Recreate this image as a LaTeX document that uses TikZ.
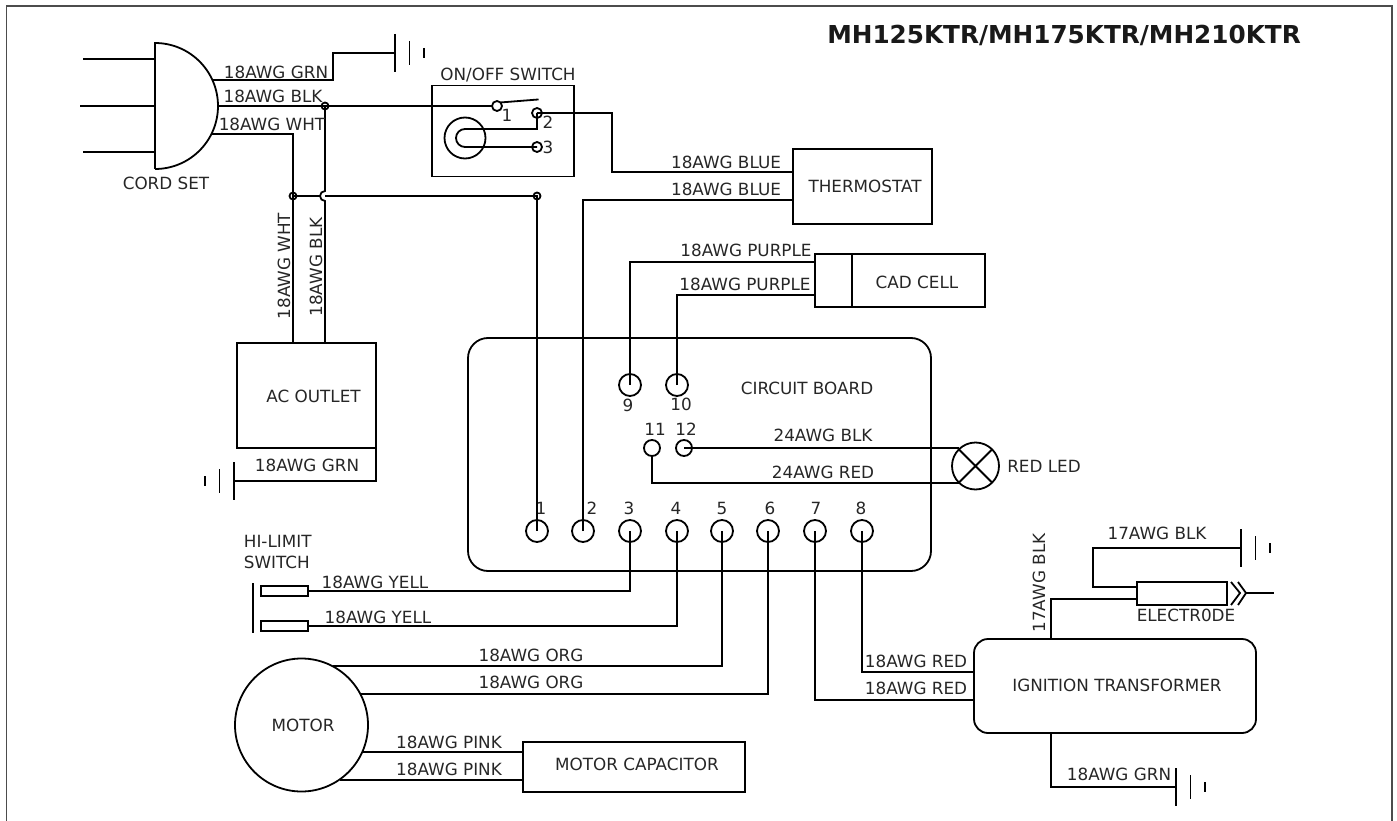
\documentclass[tikz,border=0pt]{standalone}
\usepackage{fontspec}
\setmainfont{DejaVu Sans}
\newcommand{\gnd}[4]{\coordinate (#1) at (#2,#3);
  \draw (#1) ++(0,-19) -- ++(0,38);
  \draw (#1) ++(#4*14.5,-12) -- ++(0,24);
  \draw (#1) ++(#4*29,-5) -- ++(0,10); }
\newcommand{\wirelbl}[3]{\node[lbl] (#1) at (#2) {#3}; }
\tikzset{
  lbl/.style={font=\fontsize{16.8}{21}\selectfont,inner sep=0,text=black!85},
  box/.style={draw,rectangle,inner sep=0,outer sep=0},
  term/.style={draw,circle,inner sep=0,outer sep=0,minimum size=22},
  smallterm/.style={draw,circle,inner sep=0,outer sep=0,minimum size=10},
  dotterm/.style={draw,circle,inner sep=0,outer sep=0,minimum size=7},
}

\begin{document}
\begin{tikzpicture}[x=1pt,y=-1pt,line width=1.8pt]
  \useasboundingbox (0,0) rectangle (1397,821);
  \node[draw=black!70,rectangle,inner sep=0,line width=1.8pt,minimum width=1385.5,minimum height=818] (frame) at (699.2,415) {};
  \node[font=\fontsize{24.7}{29}\selectfont\bfseries,inner sep=0,text=black!90] (title) at (1064,35) {MH125KTR/MH175KTR/MH210KTR};
  % cord set
  \coordinate (plugtop) at (155,43);
  \coordinate (plugbot) at (155,169);
  \draw (plugbot) -- (plugtop) arc[start angle=-90,end angle=90,radius=63];
  \coordinate (plugmid) at (218,106);
  \coordinate (pluggrn) at (212,80);
  \coordinate (plugwht) at (212,134);
  \coordinate (prong1) at (83,59);
  \coordinate (prong2) at (80,106);
  \coordinate (prong3) at (83,152);
  \draw (prong1) -- (155,59);
  \draw (prong2) -- (155,106);
  \draw (prong3) -- (155,152);
  \node[lbl] (cordlbl) at (166,183) {CORD SET};
  % grounds
  \gnd{gnda}{395}{53}{1}
  \gnd{gndb}{234}{481}{-1}
  \gnd{gndc}{1241}{548}{1}
  \gnd{gndd}{1176}{787}{1}
  % switch
  \node[box,minimum width=142,minimum height=91] (switch) at (503,131) {};
  \node[lbl] (switchlbl) at (508,75) {ON/OFF SWITCH};
  \node[smallterm] (sa) at (497,106) {};
  \node[smallterm] (sb) at (537,113) {};
  \node[smallterm] (sc) at (537,147) {};
  \node[lbl] (sal) at (507,115) {1};
  \node[lbl] (sbl) at (548,122) {2};
  \node[lbl] (scl) at (548,147) {3};
  \node[draw,circle,inner sep=0,minimum size=41] (lamp) at (465,138) {};
  \draw (sa.north east) -- ++(38,-3);
  \coordinate (lampa) at (465,129);
  \coordinate (lampb) at (465,147);
  \draw (sb.center) |- (lampa) arc[start angle=90,end angle=270,radius=9,y radius=-9] -- (sc.center);
  % junctions
  \node[dotterm] (jblk) at (325,106) {};
  \node[dotterm] (jwht) at (293,196) {};
  \node[dotterm] (jsw) at (537,196) {};
  \coordinate (hopa) at (325,191);
  \coordinate (hopb) at (325,201);
  % board
  \node[draw,rectangle,rounded corners=20,inner sep=0,outer sep=0,minimum width=463,minimum height=233] (board) at (699.5,454.5) {};
  \node[lbl] (boardlbl) at (807,388) {CIRCUIT BOARD};
  \foreach \n/\x in {1/537,2/583,3/630,4/677,5/722,6/768,7/815,8/862}
    \node[term] (t\n) at (\x,531) {};
  \foreach \n/\x in {1/541,2/592,3/629,4/676,5/722,6/770,7/816,8/861}
    \node[lbl] (tl\n) at (\x,508) {\n};
  \node[term] (t9) at (630,385) {};
  \node[term] (t10) at (677,385) {};
  \node[draw,circle,inner sep=0,outer sep=0,minimum size=16] (t11) at (652,448) {};
  \node[draw,circle,inner sep=0,outer sep=0,minimum size=16] (t12) at (684,448) {};
  \node[lbl] (tl9) at (628,405) {9};
  \node[lbl] (tl10) at (681,404) {10};
  \node[lbl] (tl11) at (655,429) {11};
  \node[lbl] (tl12) at (686,429) {12};
  % boxes
  \node[box,minimum width=139,minimum height=75] (thermo) at (862.5,186.5) {};
  \node[lbl] (thermolbl) at (865,186) {THERMOSTAT};
  \node[box,minimum width=170,minimum height=53] (cad) at (900,280.5) {};
  \draw (852,254) -- (852,307);
  \node[lbl] (cadlbl) at (917,282) {CAD CELL};
  \node[box,minimum width=139,minimum height=105] (outlet) at (306.5,395.5) {};
  \node[lbl] (outletlbl) at (313.5,396) {AC OUTLET};
  \node[draw,circle,inner sep=0,outer sep=0,minimum size=47] (led) at (975.5,466) {};
  \draw (led.north west) -- (led.south east) (led.north east) -- (led.south west);
  \node[lbl] (ledlbl) at (1044,466) {RED LED};
  \node[draw,rectangle,rounded corners=14,inner sep=0,outer sep=0,minimum width=282,minimum height=94] (ign) at (1115,686) {};
  \node[lbl] (ignlbl) at (1117,685) {IGNITION TRANSFORMER};
  \node[box,minimum width=90,minimum height=23] (elec) at (1182,593.5) {};
  \node[lbl] (eleclbl) at (1186,615) {ELECTR0DE};
  \draw (1231,582) -- (1240,593) -- (1231,605);
  \draw (1238,582) -- (1246,593) -- (1238,605);
  \coordinate (tip) at (1274,593);
  \draw (1246,593) -- (tip);
  \node[draw,circle,inner sep=0,outer sep=0,minimum size=133] (motor) at (301.5,725) {};
  \node[lbl] (motorlbl) at (303,725) {MOTOR};
  \node[box,minimum width=222,minimum height=50] (cap) at (634,767) {};
  \node[lbl] (caplbl) at (637,764) {MOTOR CAPACITOR};
  \node[lbl,align=left,anchor=north west] (hilbl) at (243,534) {HI-LIMIT\\SWITCH};
  \node[box,minimum width=47,minimum height=10] (hla) at (284.5,591) {};
  \node[box,minimum width=47,minimum height=10] (hlb) at (284.5,626) {};
  \draw (253,583) -- (253,633);
  % wires
  \coordinate (cgrn) at (333,80);
  \draw (pluggrn) -- (cgrn) |- (gnda);
  \draw (plugmid) -- (jblk.center) -- (sa);
  \coordinate (cwht) at (293,134);
  \draw (plugwht) -- (cwht) -- (cwht |- outlet.north);
  \draw (jblk.center) -- (hopa) arc[start angle=90,end angle=270,radius=5,y radius=-5] -- (hopb) -- (hopb |- outlet.north);
  \draw (jwht.center) -- (320,196) (hopa |- jwht) -- (jsw.center) -- (t1.center);
  \coordinate (bluea) at (793,172);
  \coordinate (blueb) at (793,200);
  \coordinate (cblue) at (612,113);
  \draw (sb.center) -- (cblue) |- (bluea);
  \draw (t2.center) |- (blueb);
  \coordinate (pura) at (815,262);
  \coordinate (purb) at (815,295);
  \draw (t9.center) |- (pura);
  \draw (t10.center) |- (purb);
  \draw (t12.center) -- (t12.center -| led.north west);
  \draw (t11) |- (led.south west);
  \draw (t3.center) |- (hla);
  \draw (t4.center) |- (hlb);
  \coordinate (morg) at (333,666);
  \coordinate (morh) at (360,694);
  \draw (t5.center) |- (morg);
  \draw (t6.center) |- (morh);
  \coordinate (pinka) at (523,752);
  \coordinate (pinkb) at (523,780);
  \draw (pinka) -- (363,752);
  \draw (pinkb) -- (340,780);
  \coordinate (igna) at (974,672);
  \coordinate (ignb) at (974,700);
  \coordinate (ignc) at (1051,639);
  \coordinate (ignd) at (1051,733);
  \draw (t8.center) |- (igna);
  \draw (t7.center) |- (ignb);
  \coordinate (elecw) at (1137,599);
  \coordinate (eleca) at (1137,587);
  \coordinate (celec) at (1093,587);
  \draw (ignc) |- (elecw);
  \draw (eleca) -- (celec) |- (gndc);
  \draw (ignd) |- (gndd);
  \coordinate (outc) at (376,481);
  \draw (outlet.south east) -- (outc) -- (gndb);
  % wire labels
  \wirelbl{la}{276,72}{18AWG GRN}
  \wirelbl{lb}{273,96}{18AWG BLK}
  \wirelbl{lc}{272,124}{18AWG WHT}
  \node[lbl,rotate=90] (ld) at (284,266) {18AWG WHT};
  \node[lbl,rotate=90] (le) at (316,267) {18AWG BLK};
  \wirelbl{lf}{726,162}{18AWG BLUE}
  \wirelbl{lg}{726,189}{18AWG BLUE}
  \wirelbl{lh}{746,250}{18AWG PURPLE}
  \wirelbl{li}{745,284}{18AWG PURPLE}
  \wirelbl{lj}{823,435}{24AWG BLK}
  \wirelbl{lk}{823,472}{24AWG RED}
  \wirelbl{ll}{307,465}{18AWG GRN}
  \wirelbl{lm}{375,582}{18AWG YELL}
  \wirelbl{ln}{378,617}{18AWG YELL}
  \wirelbl{lo}{531,655}{18AWG ORG}
  \wirelbl{lp}{531,682}{18AWG ORG}
  \wirelbl{lq}{449,742}{18AWG PINK}
  \wirelbl{lr}{449,769}{18AWG PINK}
  \wirelbl{ls}{916,661}{18AWG RED}
  \wirelbl{lt}{916,688}{18AWG RED}
  \wirelbl{lu}{1119,774}{18AWG GRN}
  \wirelbl{lv}{1157,533}{17AWG BLK}
  \node[lbl,rotate=90] (lw) at (1039,583) {17AWG BLK};
\end{tikzpicture}
\end{document}
